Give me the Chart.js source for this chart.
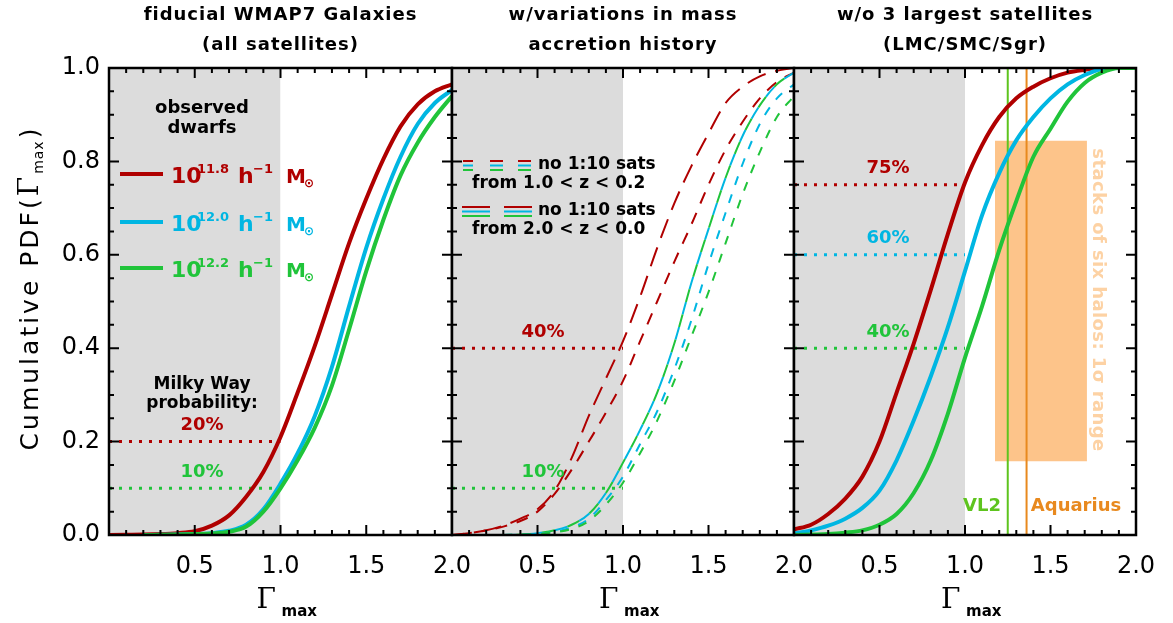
<!DOCTYPE html>
<html>
<head>
<meta charset="utf-8">
<script src="https://cdn.jsdelivr.net/npm/chart.js@4.4.0/dist/chart.umd.min.js"></script>
<style>
  html, body { margin: 0; padding: 0; background: #fff; }
  #wrap { position: relative; width: 1173px; height: 623px; }
  #wrap canvas { position: absolute; left: 0; top: 0; }
</style>
</head>
<body>
<div id="wrap">
  <canvas id="p1" width="1173" height="623"></canvas>
  <canvas id="p2" width="1173" height="623"></canvas>
  <canvas id="p3" width="1173" height="623"></canvas>
</div>
<script>
// Gamma_max grid shared by every curve
const gammaGrid = [0.0, 0.1, 0.2, 0.3, 0.4, 0.5, 0.6, 0.7, 0.8, 0.9, 1.0, 1.1, 1.2, 1.3, 1.4, 1.5, 1.6, 1.7, 1.8, 1.9, 2.0];

// panel 1 - fiducial WMAP7 galaxies (all satellites)
const fidRed   = [0.0, 0.0005, 0.001, 0.002, 0.004, 0.008, 0.02, 0.042, 0.082, 0.135, 0.21, 0.305, 0.405, 0.515, 0.625, 0.72, 0.805, 0.875, 0.922, 0.95, 0.965];
const fidCyan  = [null, null, 0.0, 0.0005, 0.001, 0.002, 0.004, 0.009, 0.022, 0.055, 0.11, 0.175, 0.255, 0.36, 0.49, 0.615, 0.72, 0.81, 0.88, 0.925, 0.953];
const fidGreen = [null, null, 0.0, 0.0005, 0.001, 0.002, 0.003, 0.007, 0.018, 0.05, 0.1, 0.16, 0.23, 0.32, 0.44, 0.565, 0.675, 0.77, 0.84, 0.895, 0.94];

// panel 2 - variations in mass accretion history
const macRedLong    = [0.0, 0.004, 0.01, 0.02, 0.035, 0.055, 0.095, 0.165, 0.255, 0.335, 0.415, 0.51, 0.615, 0.71, 0.79, 0.86, 0.925, 0.96, 0.982, 0.994, 1.0];
const macRedShort   = [0.0, 0.004, 0.01, 0.018, 0.03, 0.05, 0.088, 0.14, 0.2, 0.262, 0.33, 0.415, 0.5, 0.585, 0.665, 0.75, 0.825, 0.885, 0.935, 0.97, 0.99];
const macMixLong    = [null, null, null, 0.0, 0.001, 0.004, 0.01, 0.022, 0.045, 0.09, 0.155, 0.225, 0.305, 0.41, 0.54, 0.655, 0.765, 0.855, 0.92, 0.965, 0.99];
const macCyanShort  = [null, null, null, 0.0, 0.001, 0.003, 0.007, 0.016, 0.035, 0.075, 0.125, 0.195, 0.265, 0.355, 0.46, 0.58, 0.69, 0.795, 0.88, 0.935, 0.965];
const macGreenShort = [null, null, null, 0.0, 0.001, 0.002, 0.006, 0.013, 0.03, 0.065, 0.112, 0.175, 0.245, 0.33, 0.425, 0.52, 0.625, 0.73, 0.82, 0.895, 0.94];

// panel 3 - without LMC/SMC/Sgr
const noBigRed   = [0.012, 0.022, 0.045, 0.078, 0.125, 0.2, 0.305, 0.41, 0.525, 0.645, 0.755, 0.835, 0.895, 0.935, 0.96, 0.978, 0.99, 0.996, 1.0, 1.0, 1.0];
const noBigCyan  = [0.003, 0.01, 0.02, 0.035, 0.058, 0.095, 0.16, 0.245, 0.34, 0.445, 0.565, 0.685, 0.775, 0.845, 0.895, 0.935, 0.965, 0.985, 0.998, 1.0, 1.0];
const noBigGreen = [0.0, 0.001, 0.002, 0.005, 0.01, 0.022, 0.045, 0.09, 0.16, 0.26, 0.38, 0.49, 0.61, 0.715, 0.81, 0.87, 0.928, 0.968, 0.99, 1.0, 1.0];

// observed dwarfs range and probability levels
const observedRange = [0.0, 1.0];
const fidLevels = [0.2, 0.1];
const fidLevelLabels = ['20%', '10%'];
const macLevels = [0.4, 0.1];
const macLevelLabels = ['40%', '10%'];
const noBigLevels = [0.75, 0.6, 0.4];
const noBigLevelLabels = ['75%', '60%', '40%'];

// simulations
const vl2Gamma = 1.25;
const aquariusGamma = 1.36;
const stackRangeX = [1.175, 1.713];
const stackRangeY = [0.158, 0.844];

const FONT = '"DejaVu Sans", sans-serif';
const RED = '#b00000', CYAN = '#00b6e2', GREEN = '#20c43a';
const GRAY = '#dcdcdc';

const pts = arr => gammaGrid.map((g, i) => ({ x: g, y: arr[i] })).filter(p => p.y !== null);

function curve(arr, color, width, dash, offset) {
  return {
    data: pts(arr), borderColor: color, borderWidth: width, borderDash: dash || [],
    borderDashOffset: offset || 0, pointRadius: 0, fill: false,
    cubicInterpolationMode: 'monotone', borderCapStyle: 'butt', order: 1
  };
}
function level(v, color) {
  return {
    data: [{ x: observedRange[0], y: v }, { x: observedRange[1], y: v }],
    borderColor: color, borderWidth: 3, borderDash: [3, 7], pointRadius: 0, order: 3
  };
}
function shade() {
  return {
    data: [{ x: observedRange[0], y: 1 }, { x: observedRange[1], y: 1 }],
    borderWidth: 0, pointRadius: 0, fill: 'origin', backgroundColor: GRAY, order: 10
  };
}
function vline(g, color) {
  return { data: [{ x: g, y: 0 }, { x: g, y: 1 }], borderColor: color, borderWidth: 2, pointRadius: 0, order: 5 };
}

function drawFrame(c) {
  const ctx = c.ctx, { left, right, top, bottom } = c.chartArea;
  const xs = c.scales.x, ys = c.scales.y;
  ctx.save();
  ctx.strokeStyle = '#000';
  ctx.lineWidth = 2;
  ctx.beginPath();
  for (let i = 0; i <= 20; i++) {
    const px = xs.getPixelForValue(i / 10), len = i % 5 === 0 ? 10 : 5;
    ctx.moveTo(px, bottom); ctx.lineTo(px, bottom - len);
    ctx.moveTo(px, top); ctx.lineTo(px, top + len);
  }
  for (let j = 0; j <= 20; j++) {
    const py = ys.getPixelForValue(j * 0.05), len = j % 4 === 0 ? 10 : 5;
    ctx.moveTo(left, py); ctx.lineTo(left + len, py);
    ctx.moveTo(right, py); ctx.lineTo(right - len, py);
  }
  ctx.stroke();
  ctx.lineWidth = 2.5;
  ctx.strokeRect(left, top, right - left, bottom - top);
  ctx.restore();
}

function text(ctx, s, x, y, size, color, align, bold) {
  ctx.font = (bold === false ? '' : 'bold ') + size + 'px ' + FONT;
  ctx.fillStyle = color;
  ctx.textAlign = align || 'center';
  ctx.textBaseline = 'middle';
  ctx.fillText(s, x, y);
}

function titles(c, l1, l2) {
  const ctx = c.ctx, cx = (c.chartArea.left + c.chartArea.right) / 2;
  ctx.save();
  ctx.letterSpacing = '1px';
  text(ctx, l1, cx, 15, 18, '#000');
  text(ctx, l2, cx, 45, 18, '#000');
  // x axis title Gamma_max
  ctx.font = '28px "DejaVu Serif", serif';
  ctx.textAlign = 'left'; ctx.textBaseline = 'alphabetic'; ctx.fillStyle = '#000';
  ctx.letterSpacing = '0px';
  ctx.fillText('Γ', cx - 24, 608);
  ctx.font = 'bold 15px ' + FONT;
  ctx.fillText('max', cx + 1, 616);
  ctx.restore();
}

function levelLabels(c, levels, labels, colors, x) {
  const ctx = c.ctx, ys = c.scales.y;
  ctx.save();
  levels.forEach((v, i) => text(ctx, labels[i], x, ys.getPixelForValue(v) - 16, 18, colors[i]));
  ctx.restore();
}

function massLabel(ctx, y, exp, color) {
  ctx.beginPath();
  ctx.strokeStyle = color; ctx.lineWidth = 4;
  ctx.moveTo(120, y); ctx.lineTo(163, y); ctx.stroke();
  ctx.fillStyle = color; ctx.textAlign = 'left'; ctx.textBaseline = 'alphabetic';
  ctx.font = 'bold 22px ' + FONT; ctx.fillText('10', 171, y + 9);
  ctx.font = 'bold 13px ' + FONT; ctx.fillText(exp, 197, y - 1);
  ctx.font = 'bold 22px ' + FONT; ctx.fillText('h', 238, y + 9);
  ctx.font = 'bold 13px ' + FONT; ctx.fillText('−1', 253, y - 1);
  ctx.font = 'bold 20px ' + FONT; ctx.fillText('M', 286, y + 9);
  ctx.font = 'bold 12px ' + FONT; ctx.fillText('⊙', 304, y + 13);
}

function decorate1(c) {
  const ctx = c.ctx;
  titles(c, 'fiducial WMAP7 Galaxies', '(all satellites)');
  ctx.save();
  text(ctx, 'observed', 202, 108, 18, '#000');
  text(ctx, 'dwarfs', 202, 128, 18, '#000');
  massLabel(ctx, 174, '11.8', RED);
  massLabel(ctx, 222, '12.0', CYAN);
  massLabel(ctx, 268, '12.2', GREEN);
  text(ctx, 'Milky Way', 202, 385, 17, '#000');
  text(ctx, 'probability:', 202, 404, 17, '#000');
  // y axis title
  ctx.translate(30, 289);
  ctx.rotate(-Math.PI / 2);
  ctx.fillStyle = '#000'; ctx.textBaseline = 'alphabetic'; ctx.textAlign = 'left';
  ctx.letterSpacing = '3px';
  ctx.font = '25px ' + FONT;
  const a = 'Cumulative PDF(';
  const wa = ctx.measureText(a).width;
  ctx.font = '28px "DejaVu Serif", serif';
  const wg = ctx.measureText('Γ').width;
  ctx.letterSpacing = '1px';
  ctx.font = '14px ' + FONT;
  const wm = ctx.measureText('max').width;
  ctx.letterSpacing = '3px';
  ctx.font = '25px ' + FONT;
  const wc = ctx.measureText(')').width;
  let x0 = -(wa + wg + wm + wc) / 2;
  ctx.fillText(a, x0, 8); x0 += wa;
  ctx.font = '28px "DejaVu Serif", serif'; ctx.fillText('Γ', x0, 8); x0 += wg;
  ctx.letterSpacing = '1px';
  ctx.font = '14px ' + FONT; ctx.fillText('max', x0, 13); x0 += wm;
  ctx.letterSpacing = '3px';
  ctx.font = '25px ' + FONT; ctx.fillText(')', x0 + 2, 8);
  ctx.restore();
  levelLabels(c, fidLevels, fidLevelLabels, [RED, GREEN], 202);
}

function decorate2(c) {
  const ctx = c.ctx;
  titles(c, 'w/variations in mass', 'accretion history');
  ctx.save();
  ctx.lineWidth = 2;
  const rows = [
    { y: 161, segs: [[463, 473], [490, 503], [518, 531]], t1: 'no 1:10 sats', t2: 'from 1.0 < z < 0.2' },
    { y: 207, segs: [[462, 490], [504, 532]], t1: 'no 1:10 sats', t2: 'from 2.0 < z < 0.0' }
  ];
  rows.forEach(r => {
    [RED, CYAN, GREEN].forEach((col, k) => {
      ctx.strokeStyle = col;
      ctx.beginPath();
      r.segs.forEach(s => { ctx.moveTo(s[0], r.y + k * 4.5); ctx.lineTo(s[1], r.y + k * 4.5); });
      ctx.stroke();
    });
    text(ctx, r.t1, 538, r.y + 4, 17, '#000', 'left');
    text(ctx, r.t2, 472, r.y + 23, 17, '#000', 'left');
  });
  ctx.restore();
  levelLabels(c, macLevels, macLevelLabels, [RED, GREEN], 543);
}

function decorate3(c) {
  const ctx = c.ctx;
  titles(c, 'w/o 3 largest satellites', '(LMC/SMC/Sgr)');
  ctx.save();
  text(ctx, 'VL2', 982, 506, 18, '#5ec41e');
  text(ctx, 'Aquarius', 1076, 506, 18, '#e8891e');
  ctx.translate(1098, 300);
  ctx.rotate(Math.PI / 2);
  ctx.letterSpacing = '0.4px';
  text(ctx, 'stacks of six halos: 1σ range', 0, 0, 18, '#fdd2a4');
  ctx.restore();
  levelLabels(c, noBigLevels, noBigLevelLabels, [RED, CYAN, GREEN], 888);
}

function makePanel(id, padLeft, padRight, showY, datasets, decorate) {
  return new Chart(document.getElementById(id), {
    type: 'line',
    data: { datasets },
    options: {
      responsive: false,
      animation: false,
      layout: { padding: { left: padLeft, right: padRight, top: 68, bottom: 0 } },
      plugins: { legend: { display: false }, tooltip: { enabled: false } },
      scales: {
        x: {
          type: 'linear', min: 0, max: 2,
          grid: { display: false, drawTicks: false }, border: { display: false },
          ticks: {
            stepSize: 0.5, autoSkip: false, maxRotation: 0, padding: 17, color: '#000',
            font: { family: FONT, size: 24 },
            callback: v => (v === 0 ? '' : v.toFixed(1))
          },
          afterFit: s => { s.height = 88; s.paddingLeft = 0; s.paddingRight = 0; }
        },
        y: {
          type: 'linear', min: 0, max: 1, display: showY,
          grid: { display: false, drawTicks: false }, border: { display: false },
          ticks: {
            stepSize: 0.2, padding: 9, color: '#000',
            font: { family: FONT, size: 24 },
            callback: v => v.toFixed(1)
          },
          afterFit: s => { if (showY) s.width = 109; s.paddingTop = 0; s.paddingBottom = 0; }
        }
      }
    },
    plugins: [{ id: 'frame_' + id, afterDraw: c => { drawFrame(c); decorate(c); } }]
  });
}

makePanel('p1', 0, 1173 - 452, true, [
  shade(),
  level(fidLevels[0], RED),
  level(fidLevels[1], GREEN),
  curve(fidGreen, GREEN, 4),
  curve(fidCyan, CYAN, 4),
  curve(fidRed, RED, 4)
], decorate1);

makePanel('p2', 452, 1173 - 794, false, [
  shade(),
  level(macLevels[0], RED),
  level(macLevels[1], GREEN),
  curve(macGreenShort, GREEN, 2, [9, 10]),
  curve(macCyanShort, CYAN, 2, [9, 10]),
  curve(macMixLong, GREEN, 2, [13, 13], 13),
  curve(macMixLong, CYAN, 2, [13, 13]),
  curve(macRedShort, RED, 2, [12, 10]),
  curve(macRedLong, RED, 2, [20, 10])
], decorate2);

makePanel('p3', 794, 1173 - 1136, false, [
  shade(),
  {
    data: [{ x: stackRangeX[0], y: stackRangeY[1] }, { x: stackRangeX[1], y: stackRangeY[1] }],
    borderWidth: 0, pointRadius: 0, fill: { value: stackRangeY[0] }, backgroundColor: '#fdc48a', order: 9
  },
  vline(vl2Gamma, '#5ec41e'),
  vline(aquariusGamma, '#e8891e'),
  level(noBigLevels[0], RED),
  level(noBigLevels[1], CYAN),
  level(noBigLevels[2], GREEN),
  curve(noBigGreen, GREEN, 4),
  curve(noBigCyan, CYAN, 4),
  curve(noBigRed, RED, 4)
], decorate3);
</script>
</body>
</html>
